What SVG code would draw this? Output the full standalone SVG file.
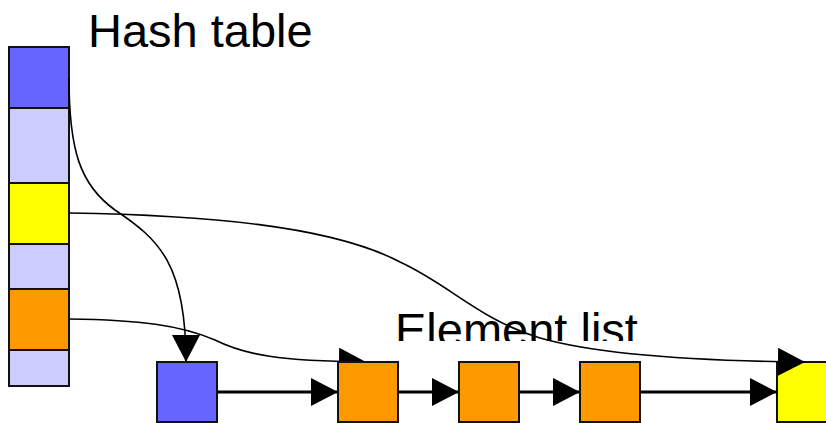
<svg xmlns="http://www.w3.org/2000/svg" width="826" height="423" viewBox="0 0 826 423">
  <style>
    .cell { stroke: #111; stroke-width: 2; }
    .blue { fill: #6666FF; }
    .lav { fill: #CCCCFF; }
    .yel { fill: #FFFF00; }
    .org { fill: #FF9900; }
    .label { font-family: "Liberation Sans", Arial, sans-serif; font-size: 47px; fill: #000; }
    .curve { fill: none; stroke: #000; stroke-width: 1.6; }
    .link { fill: none; stroke: #000; stroke-width: 3; }
  </style>
  <defs>
    <marker id="head" markerUnits="userSpaceOnUse" viewBox="0 0 27 28" refX="27" refY="14" markerWidth="27" markerHeight="28" orient="auto">
      <path d="M0,0 L27,14 L0,28 Z" fill="#000"/>
    </marker>
    <clipPath id="labelClip">
      <rect x="380" y="290" width="300" height="51"/>
    </clipPath>
  </defs>

  <!-- titles -->
  <text class="label" x="88" y="47">Hash table</text>
  <text class="label" x="395" y="346" clip-path="url(#labelClip)">Element list</text>

  <!-- hash table buckets -->
  <g id="hash-table">
    <rect id="bucket-0" class="cell blue" x="9" y="47" width="60" height="61"/>
    <rect id="bucket-1" class="cell lav" x="9" y="108" width="60" height="75"/>
    <rect id="bucket-2" class="cell yel" x="9" y="183" width="60" height="61"/>
    <rect id="bucket-3" class="cell lav" x="9" y="244" width="60" height="45"/>
    <rect id="bucket-4" class="cell org" x="9" y="289" width="60" height="61"/>
    <rect id="bucket-5" class="cell lav" x="9" y="350" width="60" height="36"/>
  </g>

  <!-- last element sits under its incoming arrowhead -->
  <g id="element-5"><rect class="cell yel" x="777" y="362" width="60" height="60"/></g>

  <g id="connectors">
    <path class="curve" d="M69,78 C69,150 80,185 115,210 C160,240 186,265 186,362" marker-end="url(#head)"/>
    <path class="curve" d="M69,213 C200,215 330,225 400,262 C450,285 480,320 540,338 C600,355 700,361 805,362" marker-end="url(#head)"/>
    <path class="curve" d="M69,319 C140,320 180,325 215,340 C245,355 280,361 366,362" marker-end="url(#head)"/>
    <path class="link" d="M217,392 H338" marker-end="url(#head)"/>
    <path class="link" d="M398,392 H459" marker-end="url(#head)"/>
    <path class="link" d="M519,392 H580" marker-end="url(#head)"/>
    <path class="link" d="M640,392 H777" marker-end="url(#head)"/>
  </g>

  <!-- element list -->
  <g id="element-1"><rect class="cell blue" x="157" y="362" width="60" height="60"/></g>
  <g id="element-2"><rect class="cell org" x="338" y="362" width="60" height="60"/></g>
  <g id="element-3"><rect class="cell org" x="459" y="362" width="60" height="60"/></g>
  <g id="element-4"><rect class="cell org" x="580" y="362" width="60" height="60"/></g>
</svg>
